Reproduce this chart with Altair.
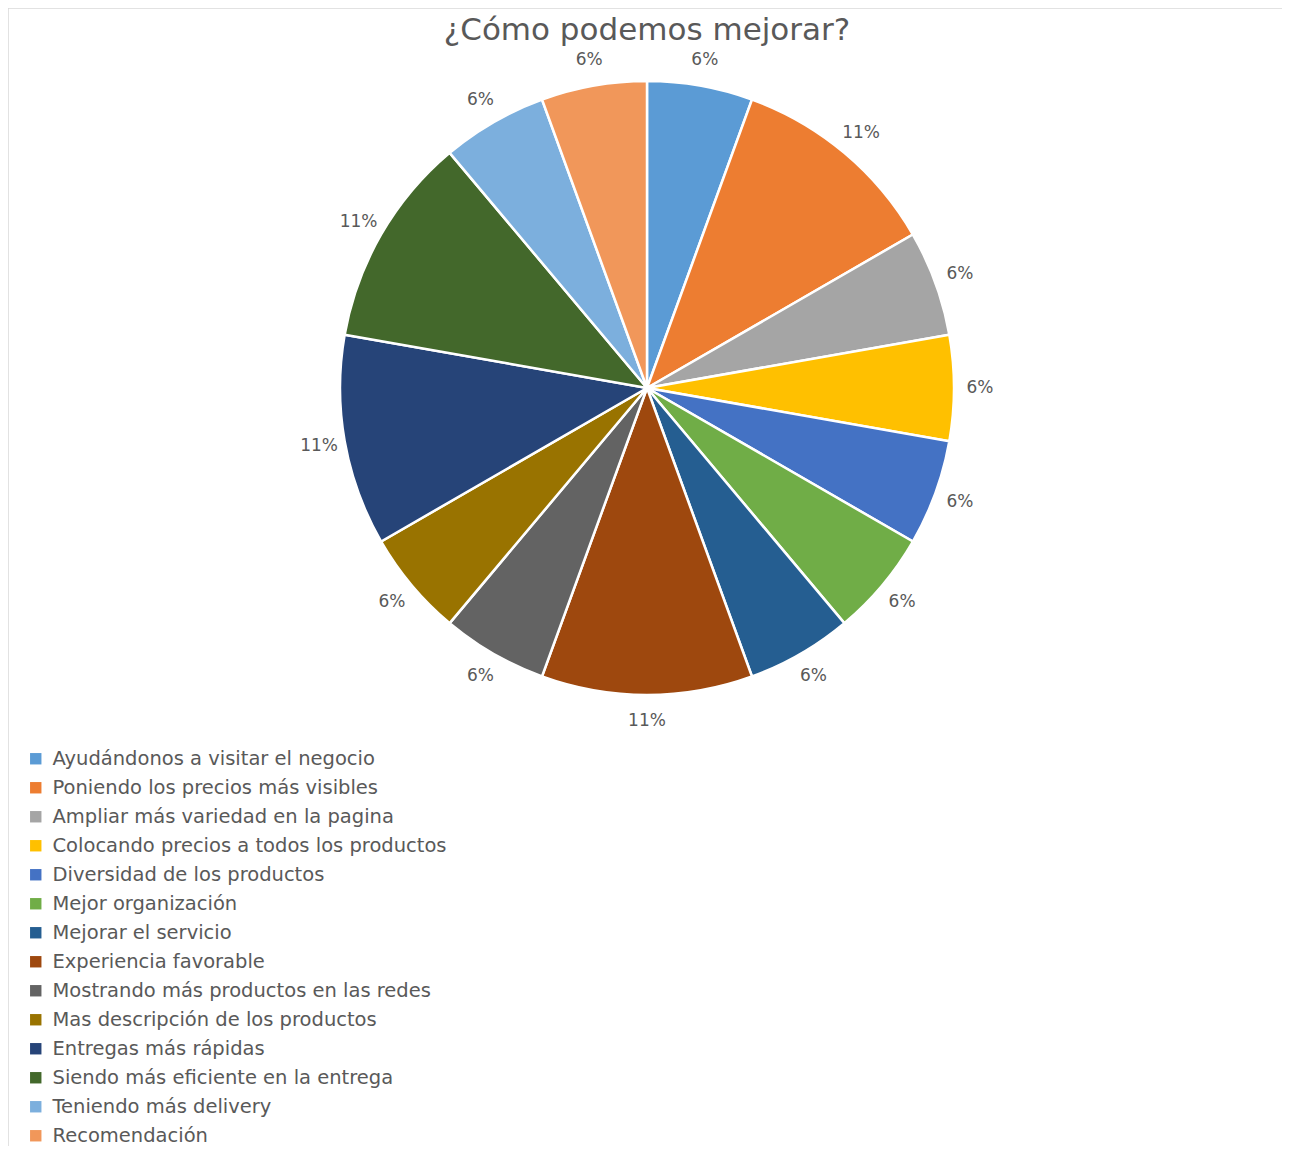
import altair as alt
import pandas as pd

TITLE = "¿Cómo podemos mejorar?"

categories = [
    "Ayudándonos a visitar el negocio",
    "Poniendo los precios más visibles",
    "Ampliar más variedad en la pagina",
    "Colocando precios a todos los productos",
    "Diversidad de los productos",
    "Mejor organización",
    "Mejorar el servicio",
    "Experiencia favorable",
    "Mostrando más productos en las redes",
    "Mas descripción de los productos",
    "Entregas más rápidas",
    "Siendo más eficiente en la entrega",
    "Teniendo más delivery",
    "Recomendación",
]
counts = [1, 2, 1, 1, 1, 1, 1, 2, 1, 1, 2, 2, 1, 1]
colors = [
    "#5B9BD5", "#ED7D31", "#A5A5A5", "#FFC000", "#4472C4", "#70AD47",
    "#255E91", "#9E480E", "#636363", "#997300", "#264478", "#43682B",
    "#7CAFDD", "#F1975A",
]

df = pd.DataFrame({"idx": list(range(len(categories))), "cat": categories, "n": counts})

W, H = 1274, 1138
CX, CY = 639, 380
FONT = "DejaVu Sans"
GREY = "#595959"

frame = alt.Chart(pd.DataFrame({"f": [0]})).mark_rect(
    fill="white", stroke="#d9d9d9", strokeWidth=1.5
).encode(
    x=alt.value(0), x2=alt.value(W + 6), y=alt.value(0), y2=alt.value(H + 20)
)

pie = alt.Chart(df).mark_arc(
    outerRadius=307, stroke="white", strokeWidth=2.5, x=CX, y=CY
).encode(
    theta=alt.Theta("n:Q", stack=True),
    order=alt.Order("idx:Q"),
    color=alt.Color(
        "cat:N",
        sort=categories,
        scale=alt.Scale(domain=categories, range=colors),
        legend=alt.Legend(
            title=None,
            orient="none",
            direction="vertical",
            legendX=18,
            legendY=741,
            symbolType="square",
            symbolSize=130,
            symbolStrokeWidth=0,
            symbolOpacity=1,
            labelFontSize=19.5,
            labelFont=FONT,
            labelColor=GREY,
            labelOffset=7,
            labelLimit=700,
            rowPadding=8.0,
        ),
    ),
)

labels = alt.Chart(df).transform_joinaggregate(
    total="sum(n)"
).transform_calculate(
    pct="format(datum.n / datum.total, '.0%')"
).mark_text(
    radius=333, x=CX, y=CY, fontSize=17, font=FONT, color=GREY
).encode(
    theta=alt.Theta("n:Q", stack=True),
    order=alt.Order("idx:Q"),
    text="pct:N",
)

title = alt.Chart(pd.DataFrame({"t": [TITLE]})).mark_text(
    x=CX, y=23, fontSize=31, font=FONT, color=GREY, baseline="middle"
).encode(text="t:N")

chart = alt.layer(frame, pie, labels, title).properties(
    width=W, height=H, autosize=alt.AutoSizeParams(type="none"), padding=0
).configure_view(stroke=None)

chart.save("out.html", embed_options={"renderer": "svg", "actions": False})
